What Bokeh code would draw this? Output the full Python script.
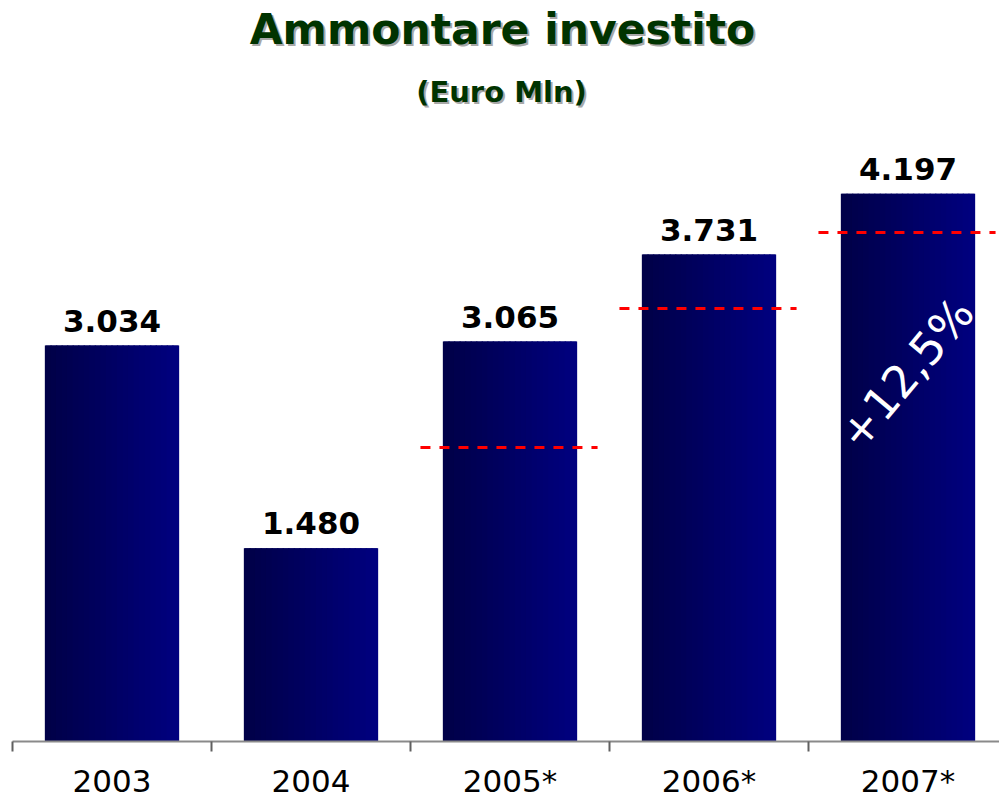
from bokeh.plotting import figure
from bokeh.models import Range1d, FixedTicker, Label, ColumnDataSource
from bokeh.embed import file_html
from bokeh.resources import INLINE
from bokeh.core.properties import value

# ---- data ----
anni = ["2003", "2004", "2005*", "2006*", "2007*"]
ammontare = [3034, 1480, 3065, 3731, 4197]
etichette = ["3.034", "1.480", "3.065", "3.731", "4.197"]
riferimento = [None, None, 2253, 3318, 3900]
crescita = "+12,5%"
titolo = "Ammontare investito"
sottotitolo = "(Euro Mln)"

# ---- geometry ----
W, H = 999, 801
PX = 0.1305            # pixels per unit
CAT = 199.0            # pixels per category
X0_CANVAS = 12.0       # canvas x of category boundary 0
FRAME_BOTTOM = 741     # expected canvas y of axis line

x_start = (0 - X0_CANVAS) / CAT
x_end = (W - X0_CANVAS) / CAT
y_end = FRAME_BOTTOM / PX


def dx(cx):
    return (cx - X0_CANVAS) / CAT


def dy(cy):
    return (FRAME_BOTTOM - cy) / PX


p = figure(width=W, height=H, output_backend="svg", toolbar_location=None,
           x_range=Range1d(x_start, x_end), y_range=Range1d(0, y_end),
           y_axis_location=None, min_border=0, min_border_left=0,
           min_border_right=0, min_border_top=0)
p.outline_line_color = None
p.grid.visible = False
p.background_fill_color = "white"
p.border_fill_color = "white"

centers = [i + 0.5 for i in range(len(anni))]
bw = 0.668

# base bars
src = ColumnDataSource(dict(x=centers, top=ammontare, lab=etichette))
p.vbar(x="x", top="top", width=bw, bottom=0, source=src,
       fill_color="#000066", line_color=None)

# gradient overlay strips (dark left -> lighter right)
n = 24
sx, st, sc = [], [], []
for c, v in zip(centers, ammontare):
    for k in range(n):
        t = k / (n - 1)
        b = int(round(72 + (126 - 72) * t))
        sx.append(c - bw / 2 + (k + 0.5) * bw / n)
        st.append(v)
        sc.append("#0000%02x" % b)
p.vbar(x=sx, top=st, bottom=0, width=bw / n * 1.25, fill_color=sc, line_color=None)

# value labels
p.text(x="x", y="top", text="lab", source=src, y_offset=-25,
       text_align="center", text_baseline="alphabetic",
       text_font=value("DejaVu Sans"), text_font_style="bold",
       text_font_size="31px", text_color="black")

# dashed reference lines
rx0, rx1, ry = [], [], []
for c, r in zip(centers, riferimento):
    if r is not None:
        rx0.append(c - 0.45)
        rx1.append(c + 0.44)
        ry.append(r)
p.segment(x0=rx0, x1=rx1, y0=ry, y1=ry, line_color="#ff0000",
          line_width=3, line_dash="10 9")

# growth label
p.add_layout(Label(x=dx(906), y=dy(373), text=crescita, angle=50, angle_units="deg",
                   text_align="center", text_baseline="middle",
                   text_font="DejaVu Sans", text_font_size="45px",
                   text_color="white"))

# titles with shadow
for txt, cx, cy, size in [(titolo, 502, 29, "42.5px"), (sottotitolo, 501, 91, "29px")]:
    p.add_layout(Label(x=dx(cx), y=dy(cy), text=txt, x_offset=2, y_offset=-2,
                       text_align="center", text_baseline="alphabetic",
                       text_font="DejaVu Sans", text_font_style="bold",
                       text_font_size=size, text_color="#a8a8a8"))
    p.add_layout(Label(x=dx(cx), y=dy(cy), text=txt,
                       text_align="center", text_baseline="alphabetic",
                       text_font="DejaVu Sans", text_font_style="bold",
                       text_font_size=size, text_color="#003300"))

# x axis: labels at centres, tick marks at category boundaries
ax = p.xaxis[0]
ax.ticker = FixedTicker(ticks=centers, minor_ticks=list(range(len(anni) + 1)))
ax.major_label_overrides = {c: a for c, a in zip(centers, anni)}
ax.bounds = (0, len(anni))
ax.major_tick_out = 0
ax.major_tick_in = 0
ax.minor_tick_out = 10
ax.minor_tick_in = 0
ax.minor_tick_line_color = "#606060"
ax.minor_tick_line_width = 2
ax.axis_line_color = "#8a8a8a"
ax.axis_line_width = 2
ax.major_label_standoff = 11
ax.major_label_text_font = "DejaVu Sans"
ax.major_label_text_font_size = "31px"
ax.major_label_text_color = "black"

open("out.html", "w").write(file_html(p, INLINE))
